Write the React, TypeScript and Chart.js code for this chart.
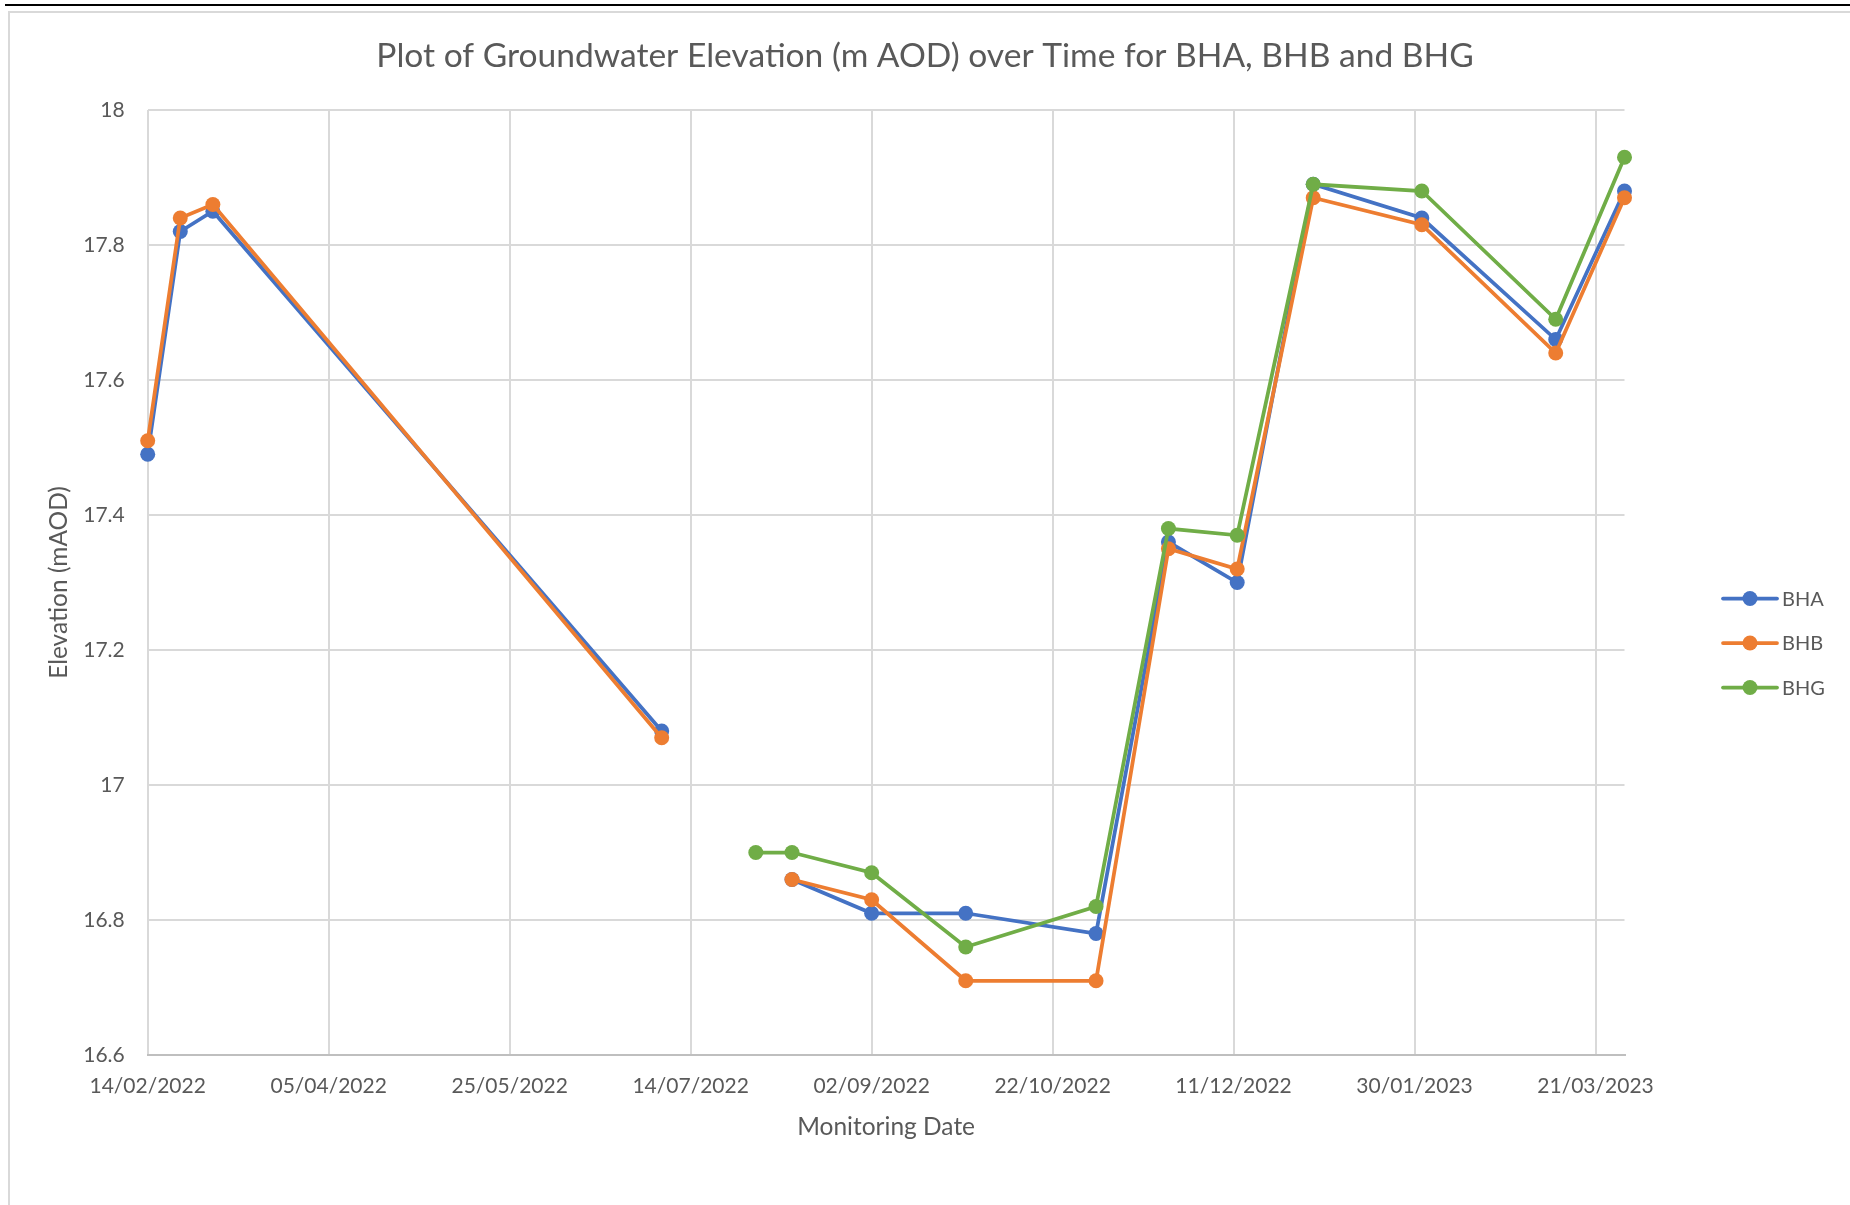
import React, { useEffect, useRef } from "react";
import { Chart, registerables } from "chart.js";

Chart.register(...registerables);

// Monitoring dates (dd/mm/yyyy) shared by all three boreholes
const sampleDates = [
  "14/02/2022", "23/02/2022", "04/03/2022", "06/07/2022", "01/08/2022",
  "11/08/2022", "02/09/2022", "28/09/2022", "03/11/2022", "23/11/2022",
  "12/12/2022", "02/01/2023", "01/02/2023", "10/03/2023", "29/03/2023",
];

// Groundwater elevation (m AOD); null = not measured on that date
const bhaLevels = [17.49, 17.82, 17.85, 17.08, null, 16.86, 16.81, 16.81, 16.78, 17.36, 17.3, 17.89, 17.84, 17.66, 17.88];
const bhbLevels = [17.51, 17.84, 17.86, 17.07, null, 16.86, 16.83, 16.71, 16.71, 17.35, 17.32, 17.87, 17.83, 17.64, 17.87];
const bhgLevels = [null, null, null, null, 16.9, 16.9, 16.87, 16.76, 16.82, 17.38, 17.37, 17.89, 17.88, 17.69, 17.93];

const seriesNames = ["BHA", "BHB", "BHG"];
const seriesColours = ["#4472C4", "#ED7D31", "#70AD47"];

// Axis ticks and limits
const dateTicks = [
  "14/02/2022", "05/04/2022", "25/05/2022", "14/07/2022", "02/09/2022",
  "22/10/2022", "11/12/2022", "30/01/2023", "21/03/2023",
];
const dateRange = ["14/02/2022", "29/03/2023"];
const elevationTicks = [16.6, 16.8, 17, 17.2, 17.4, 17.6, 17.8, 18];

const DAY_MS = 86400000;
const TEXT_GREY = "#595959";
const FONT = "Lato, 'Open Sans', sans-serif";

function toDay(s: string): number {
  const [d, m, y] = s.split("/").map(Number);
  return Date.UTC(y, m - 1, d) / DAY_MS;
}

function fromDay(day: number): string {
  const dt = new Date(Math.round(day) * DAY_MS);
  const dd = String(dt.getUTCDate()).padStart(2, "0");
  const mm = String(dt.getUTCMonth() + 1).padStart(2, "0");
  return `${dd}/${mm}/${dt.getUTCFullYear()}`;
}

// Line-and-marker key drawn to the right of the plot area
const seriesKey = {
  id: "seriesKey",
  afterDraw(chart: any) {
    const { ctx, chartArea } = chart;
    const x0 = chartArea.right + 98.5;
    const midY = (chartArea.top + chartArea.bottom) / 2 + 60.5;
    chart.data.datasets.forEach((ds: any, i: number) => {
      const y = midY + (i - 1) * 44.5;
      ctx.save();
      ctx.strokeStyle = ds.borderColor;
      ctx.lineWidth = 3.75;
      ctx.lineCap = "round";
      ctx.beginPath();
      ctx.moveTo(x0, y);
      ctx.lineTo(x0 + 54, y);
      ctx.stroke();
      ctx.fillStyle = ds.backgroundColor;
      ctx.beginPath();
      ctx.arc(x0 + 27, y, 7.5, 0, Math.PI * 2);
      ctx.fill();
      ctx.fillStyle = TEXT_GREY;
      ctx.font = `20px ${FONT}`;
      ctx.textBaseline = "middle";
      ctx.textAlign = "left";
      ctx.fillText(ds.label, x0 + 59, y + 1);
      ctx.restore();
    });
  },
};

export default function App() {
  const canvasRef = useRef<HTMLCanvasElement | null>(null);

  useEffect(() => {
    const canvas = canvasRef.current;
    if (!canvas) return;
    const levels = [bhaLevels, bhbLevels, bhgLevels];

    const chart = new Chart(canvas, {
      type: "line",
      data: {
        datasets: seriesNames.map((name, i) => ({
          label: name,
          data: sampleDates.map((d, j) => ({ x: toDay(d), y: levels[i][j] })),
          borderColor: seriesColours[i],
          backgroundColor: seriesColours[i],
          borderWidth: 3.75,
          pointRadius: 7.5,
          pointBorderWidth: 0,
          pointBackgroundColor: seriesColours[i],
          spanGaps: false,
          tension: 0,
          clip: false,
          order: 3 - i,
        })),
      },
      plugins: [seriesKey],
      options: {
        responsive: false,
        animation: false,
        events: [],
        layout: { padding: 0 },
        plugins: {
          legend: { display: false },
          tooltip: { enabled: false },
          title: {
            display: true,
            text: "Plot of Groundwater Elevation (m AOD) over Time for BHA, BHB and BHG",
            color: TEXT_GREY,
            font: { family: FONT, size: 33.6, weight: "normal" },
            padding: { top: 36, bottom: 33.7 },
          },
        },
        scales: {
          x: {
            type: "linear",
            min: toDay(dateRange[0]),
            max: toDay(dateRange[1]),
            afterBuildTicks: (scale: any) => {
              scale.ticks = dateTicks.map((d) => ({ value: toDay(d) }));
            },
            afterFit: (scale: any) => {
              scale.height = 150;
            },
            ticks: {
              autoSkip: false,
              maxRotation: 0,
              padding: 19,
              color: TEXT_GREY,
              font: { family: FONT, size: 21 },
              callback: (v: any) => fromDay(Number(v)),
            },
            grid: { color: "#D9D9D9", lineWidth: 2, drawTicks: false },
            border: { color: "#BFBFBF", width: 2 },
            title: {
              display: true,
              text: "Monitoring Date",
              color: TEXT_GREY,
              font: { family: FONT, size: 24.5 },
              padding: { top: 0, bottom: 63 },
            },
          },
          y: {
            type: "linear",
            min: elevationTicks[0],
            max: elevationTicks[elevationTicks.length - 1],
            afterBuildTicks: (scale: any) => {
              scale.ticks = elevationTicks.map((v) => ({ value: v }));
            },
            afterFit: (scale: any) => {
              scale.width = 147.7;
            },
            ticks: {
              padding: 23,
              color: TEXT_GREY,
              font: { family: FONT, size: 21 },
              callback: (v: any) => String(parseFloat(Number(v).toFixed(1))),
            },
            grid: { color: "#D9D9D9", lineWidth: 2, drawTicks: false },
            border: { display: false },
            title: {
              display: true,
              text: "Elevation (mAOD)",
              color: TEXT_GREY,
              font: { family: FONT, size: 24.5 },
              padding: { top: 44, bottom: 0 },
            },
          },
          keySpace: {
            type: "linear",
            position: "right",
            display: true,
            min: 0,
            max: 1,
            grid: { display: false },
            border: { display: false },
            ticks: { display: false },
            afterFit: (scale: any) => {
              scale.width = 225.5;
            },
          },
        },
      } as any,
    });

    return () => chart.destroy();
  }, []);

  return (
    <div
      style={{
        position: "absolute",
        left: 0,
        top: 0,
        width: 1850,
        height: 1205,
        overflow: "hidden",
        background: "#ffffff",
      }}
    >
      <div style={{ position: "absolute", left: 5, top: 4, right: 0, height: 2, background: "#000000" }} />
      <div
        style={{
          position: "absolute",
          left: 8,
          top: 11,
          right: -10,
          bottom: -10,
          borderTop: "2px solid #D9D9D9",
          borderLeft: "2px solid #D9D9D9",
        }}
      />
      <canvas
        ref={canvasRef}
        width={1850}
        height={1205}
        style={{ position: "absolute", left: 0, top: 0, width: 1850, height: 1205 }}
      />
    </div>
  );
}
